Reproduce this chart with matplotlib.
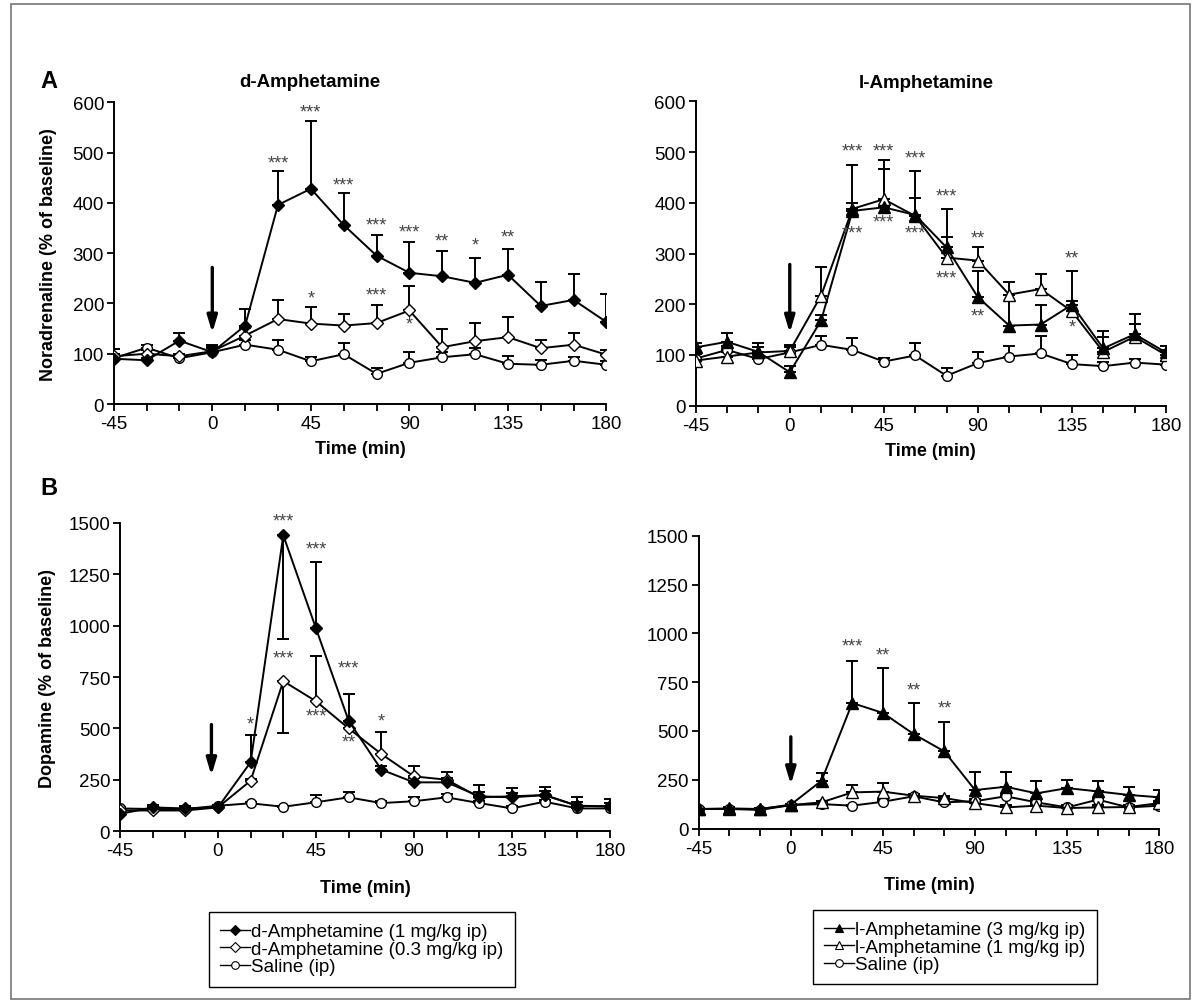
import numpy as np
import matplotlib
matplotlib.use('Agg')
import matplotlib.pyplot as plt
from matplotlib.lines import Line2D
from matplotlib.patches import Rectangle

plt.rcParams['font.family'] = ['Liberation Sans', 'DejaVu Sans']

# ── data ──────────────────────────────────────────────────────────────────────
TIME = [-45, -30, -15, 0, 15, 30, 45, 60, 75, 90, 105, 120, 135, 150, 165, 180]

# Noradrenaline, d-amphetamine panel
na_d1      = [90, 87, 126, 103, 156, 396, 428, 356, 295, 261, 254, 241, 257, 195, 207, 163]
na_d1_err  = [20, 5, 15, 14, 32, 68, 134, 64, 42, 62, 51, 49, 52, 48, 52, 55]
na_d03     = [95, 100, 95, 105, 136, 169, 160, 156, 161, 186, 113, 125, 133, 111, 118, 98]
na_d03_err = [15, 8, 5, 10, 15, 38, 32, 23, 36, 49, 36, 37, 41, 16, 23, 9]
na_sal_l   = [91, 112, 91, 103, 118, 108, 85, 99, 60, 82, 93, 99, 80, 78, 86, 78]
na_sal_l_err = [8, 5, 5, 8, 10, 19, 8, 22, 12, 21, 10, 12, 16, 10, 8, 8]

# Noradrenaline, l-amphetamine panel
na_l3      = [115, 126, 106, 66, 168, 384, 391, 376, 312, 214, 158, 160, 199, 113, 141, 105]
na_l3_err  = [9, 17, 18, 12, 10, 16, 75, 87, 76, 51, 60, 38, 66, 35, 40, 12]
na_l1      = [89, 97, 105, 108, 217, 388, 407, 374, 292, 286, 219, 230, 186, 106, 136, 100]
na_l1_err  = [8, 8, 10, 12, 57, 87, 78, 35, 40, 26, 25, 30, 20, 29, 25, 10]
na_sal_r   = [93, 110, 92, 105, 120, 110, 87, 99, 59, 84, 97, 103, 82, 78, 85, 81]
na_sal_r_err = [8, 8, 8, 10, 17, 23, 8, 24, 15, 21, 20, 35, 17, 8, 8, 8]

# Dopamine, d-amphetamine panel (one downward bar at 30 min)
da_d1      = [83, 115, 110, 115, 335, 1440, 987, 537, 299, 237, 237, 169, 164, 175, 123, 120]
da_d1_up   = [10, 10, 10, 10, 132, 0, 324, 130, 20, 20, 20, 20, 20, 20, 20, 15]
da_d1_dn   = [0, 0, 0, 0, 0, 505, 0, 0, 0, 0, 0, 0, 0, 0, 0, 0]
da_d03     = [100, 100, 100, 115, 245, 730, 632, 500, 375, 266, 250, 164, 169, 175, 123, 120]
da_d03_up  = [10, 10, 10, 10, 10, 0, 222, 0, 105, 49, 39, 60, 39, 38, 41, 36]
da_d03_dn  = [0, 0, 0, 0, 0, 252, 0, 0, 0, 0, 0, 0, 0, 0, 0, 0]
da_sal_l   = [110, 107, 107, 123, 135, 118, 140, 164, 136, 145, 164, 136, 110, 143, 110, 110]
da_sal_l_err = [5, 5, 5, 5, 5, 5, 35, 27, 10, 20, 15, 10, 10, 10, 10, 10]

# Dopamine, l-amphetamine panel
da_l3      = [100, 103, 100, 122, 245, 643, 592, 484, 395, 197, 214, 180, 207, 190, 172, 160]
da_l3_err  = [5, 5, 5, 5, 38, 217, 230, 159, 152, 91, 74, 65, 43, 55, 42, 39]
da_l1      = [100, 100, 100, 120, 134, 185, 189, 168, 156, 130, 108, 117, 105, 108, 110, 130]
da_l1_err  = [5, 5, 5, 5, 5, 38, 44, 10, 10, 10, 10, 10, 10, 10, 10, 10]
da_sal_r   = [100, 100, 95, 120, 125, 117, 137, 165, 134, 140, 165, 134, 108, 148, 108, 117]
da_sal_r_err = [5, 5, 5, 5, 5, 5, 10, 10, 10, 10, 10, 10, 10, 10, 10, 10]

# significance marks (time, value, text)
stars_na_d = [(30, 479, '***'), (45, 581, '***'), (60, 436, '***'), (75, 357, '***'),
              (90, 343, '***'), (105, 325, '**'), (120, 317, '*'), (135, 333, '**'),
              (45, 211, '*'), (75, 217, '***'), (90, 160, '*')]
stars_na_l = [(30, 502, '***'), (45, 502, '***'), (30, 340, '***'), (45, 363, '***'),
              (60, 488, '***'), (60, 340, '***'), (75, 413, '***'), (75, 251, '***'),
              (90, 330, '**'), (90, 177, '**'), (135, 291, '**'), (135, 155, '*')]
stars_da_d = [(15, 521, '*'), (30, 1508, '***'), (30, 842, '***'), (45, 1373, '***'),
              (45, 561, '***'), (60, 792, '***'), (60, 435, '**'), (75, 537, '*')]
stars_da_l = [(30, 936, '***'), (45, 889, '**'), (60, 712, '**'), (75, 616, '**')]

legend_d = ['d-Amphetamine (1 mg/kg ip)', 'd-Amphetamine (0.3 mg/kg ip)', 'Saline (ip)']
legend_l = ['l-Amphetamine (3 mg/kg ip)', 'l-Amphetamine (1 mg/kg ip)', 'Saline (ip)']

FS = 13.5      # tick labels / legend
FL = 13        # bold axis labels
LW = 1.4

fig = plt.figure(figsize=(11.96, 10.04), dpi=100)
fig.patch.set_facecolor('white')
fig.add_artist(Rectangle((0.009, 0.004), 0.986, 0.991, transform=fig.transFigure,
                         fill=False, edgecolor='#777777', linewidth=1.2))


def series(ax, y, up, dn=None, marker='D', fill='black', ms=7):
    if dn is None:
        dn = [0] * len(y)
    ax.errorbar(TIME, y, yerr=[dn, up], fmt='none', ecolor='black',
                elinewidth=LW, capsize=4.5, capthick=LW, zorder=2)
    ax.plot(TIME, y, color='black', linewidth=LW, marker=marker, markersize=ms,
            markerfacecolor=fill, markeredgecolor='black', markeredgewidth=1.0, zorder=3)


def style(ax, ymax, ystep, arrow, xpad):
    ax.set_xlim(-45, 180)
    ax.set_ylim(0, ymax)
    ax.set_xticks(TIME)
    ax.set_xticklabels([str(t) if t % 45 == 0 else '' for t in TIME], fontsize=FS)
    ax.set_yticks(np.arange(0, ymax + 1, ystep))
    ax.tick_params(axis='y', labelsize=FS, direction='out', length=5, width=1.3, pad=2)
    ax.tick_params(axis='x', direction='out', length=5, width=1.3, pad=3)
    for s in ['top', 'right']:
        ax.spines[s].set_visible(False)
    for s in ['left', 'bottom']:
        ax.spines[s].set_linewidth(1.4)
    ax.set_xlabel('Time (min)', fontsize=FL, fontweight='bold', labelpad=xpad)
    x0, y0, y1 = arrow
    ax.annotate('', xy=(x0, y1), xytext=(x0, y0),
                arrowprops=dict(arrowstyle='-|>,head_width=0.3,head_length=1.0',
                                color='black', lw=2.4))


def stars(ax, marks):
    for t, v, s in marks:
        ax.text(t, v, s, ha='center', va='center', fontsize=13, color='#444444',
                clip_on=False)


# ── A left: NA, d-amphetamine ────────────────────────────────────────────────
ax1 = fig.add_axes([0.0951, 0.5966, 0.412, 0.3005])
series(ax1, na_sal_l, na_sal_l_err, marker='o', fill='white')
series(ax1, na_d03, na_d03_err, marker='D', fill='white', ms=6.5)
series(ax1, na_d1, na_d1_err, marker='D', fill='black', ms=6.5)
style(ax1, 600, 100, (0, 277, 136), 6)
stars(ax1, stars_na_d)
ax1.set_ylabel('Noradrenaline (% of baseline)', fontsize=FL, fontweight='bold', labelpad=11)
ax1.set_title('d-Amphetamine', fontsize=13.5, fontweight='bold', pad=12, x=0.398)

# ── A right: NA, l-amphetamine ───────────────────────────────────────────────
ax2 = fig.add_axes([0.5817, 0.5949, 0.3932, 0.3032])
series(ax2, na_sal_r, na_sal_r_err, marker='o', fill='white')
series(ax2, na_l1, na_l1_err, marker='^', fill='white', ms=8)
series(ax2, na_l3, na_l3_err, marker='^', fill='black', ms=8)
style(ax2, 600, 100, (0, 284, 138), 6)
stars(ax2, stars_na_l)
ax2.set_title('l-Amphetamine', fontsize=13.5, fontweight='bold', pad=10, x=0.49)

# ── B left: DA, d-amphetamine ────────────────────────────────────────────────
ax3 = fig.add_axes([0.1003, 0.1713, 0.4097, 0.3068])
series(ax3, da_sal_l, da_sal_l_err, marker='o', fill='white')
series(ax3, da_d03, da_d03_up, da_d03_dn, marker='D', fill='white', ms=6.5)
series(ax3, da_d1, da_d1_up, da_d1_dn, marker='D', fill='black', ms=6.5)
style(ax3, 1500, 250, (-3, 532, 257), 14)
stars(ax3, stars_da_d)
ax3.set_ylabel('Dopamine (% of baseline)', fontsize=FL, fontweight='bold', labelpad=9)

# ── B right: DA, l-amphetamine ───────────────────────────────────────────────
ax4 = fig.add_axes([0.5842, 0.1738, 0.3851, 0.2916])
series(ax4, da_sal_r, da_sal_r_err, marker='o', fill='white')
series(ax4, da_l1, da_l1_err, marker='^', fill='white', ms=8)
series(ax4, da_l3, da_l3_err, marker='^', fill='black', ms=8)
style(ax4, 1500, 250, (0, 484, 211), 14)
stars(ax4, stars_da_l)

fig.text(0.034, 0.912, 'A', fontsize=17, fontweight='bold')
fig.text(0.034, 0.507, 'B', fontsize=17, fontweight='bold')

# ── legends ──────────────────────────────────────────────────────────────────
def handles(markers, fills):
    return [Line2D([], [], color='black', lw=1.0, marker=m, markersize=5.5,
                   markerfacecolor=f, markeredgecolor='black', markeredgewidth=0.8)
            for m, f in zip(markers, fills)]

leg_kw = dict(fontsize=FS, frameon=True, fancybox=False, edgecolor='black',
              handlelength=1.6, handletextpad=0.05, borderpad=0.6, labelspacing=0.02,
              borderaxespad=0, framealpha=1)
lg1 = fig.legend(handles(['D', 'D', 'o'], ['black', 'white', 'white']), legend_d,
                 loc='upper left', bbox_to_anchor=(0.1747, 0.0906), **leg_kw)
lg2 = fig.legend(handles(['^', '^', 'o'], ['black', 'white', 'white']), legend_l,
                 loc='upper left', bbox_to_anchor=(0.6798, 0.0929), **leg_kw)
for lg in (lg1, lg2):
    lg.get_frame().set_linewidth(1.0)

plt.savefig('out.png', dpi=100, facecolor='white')
plt.close()
